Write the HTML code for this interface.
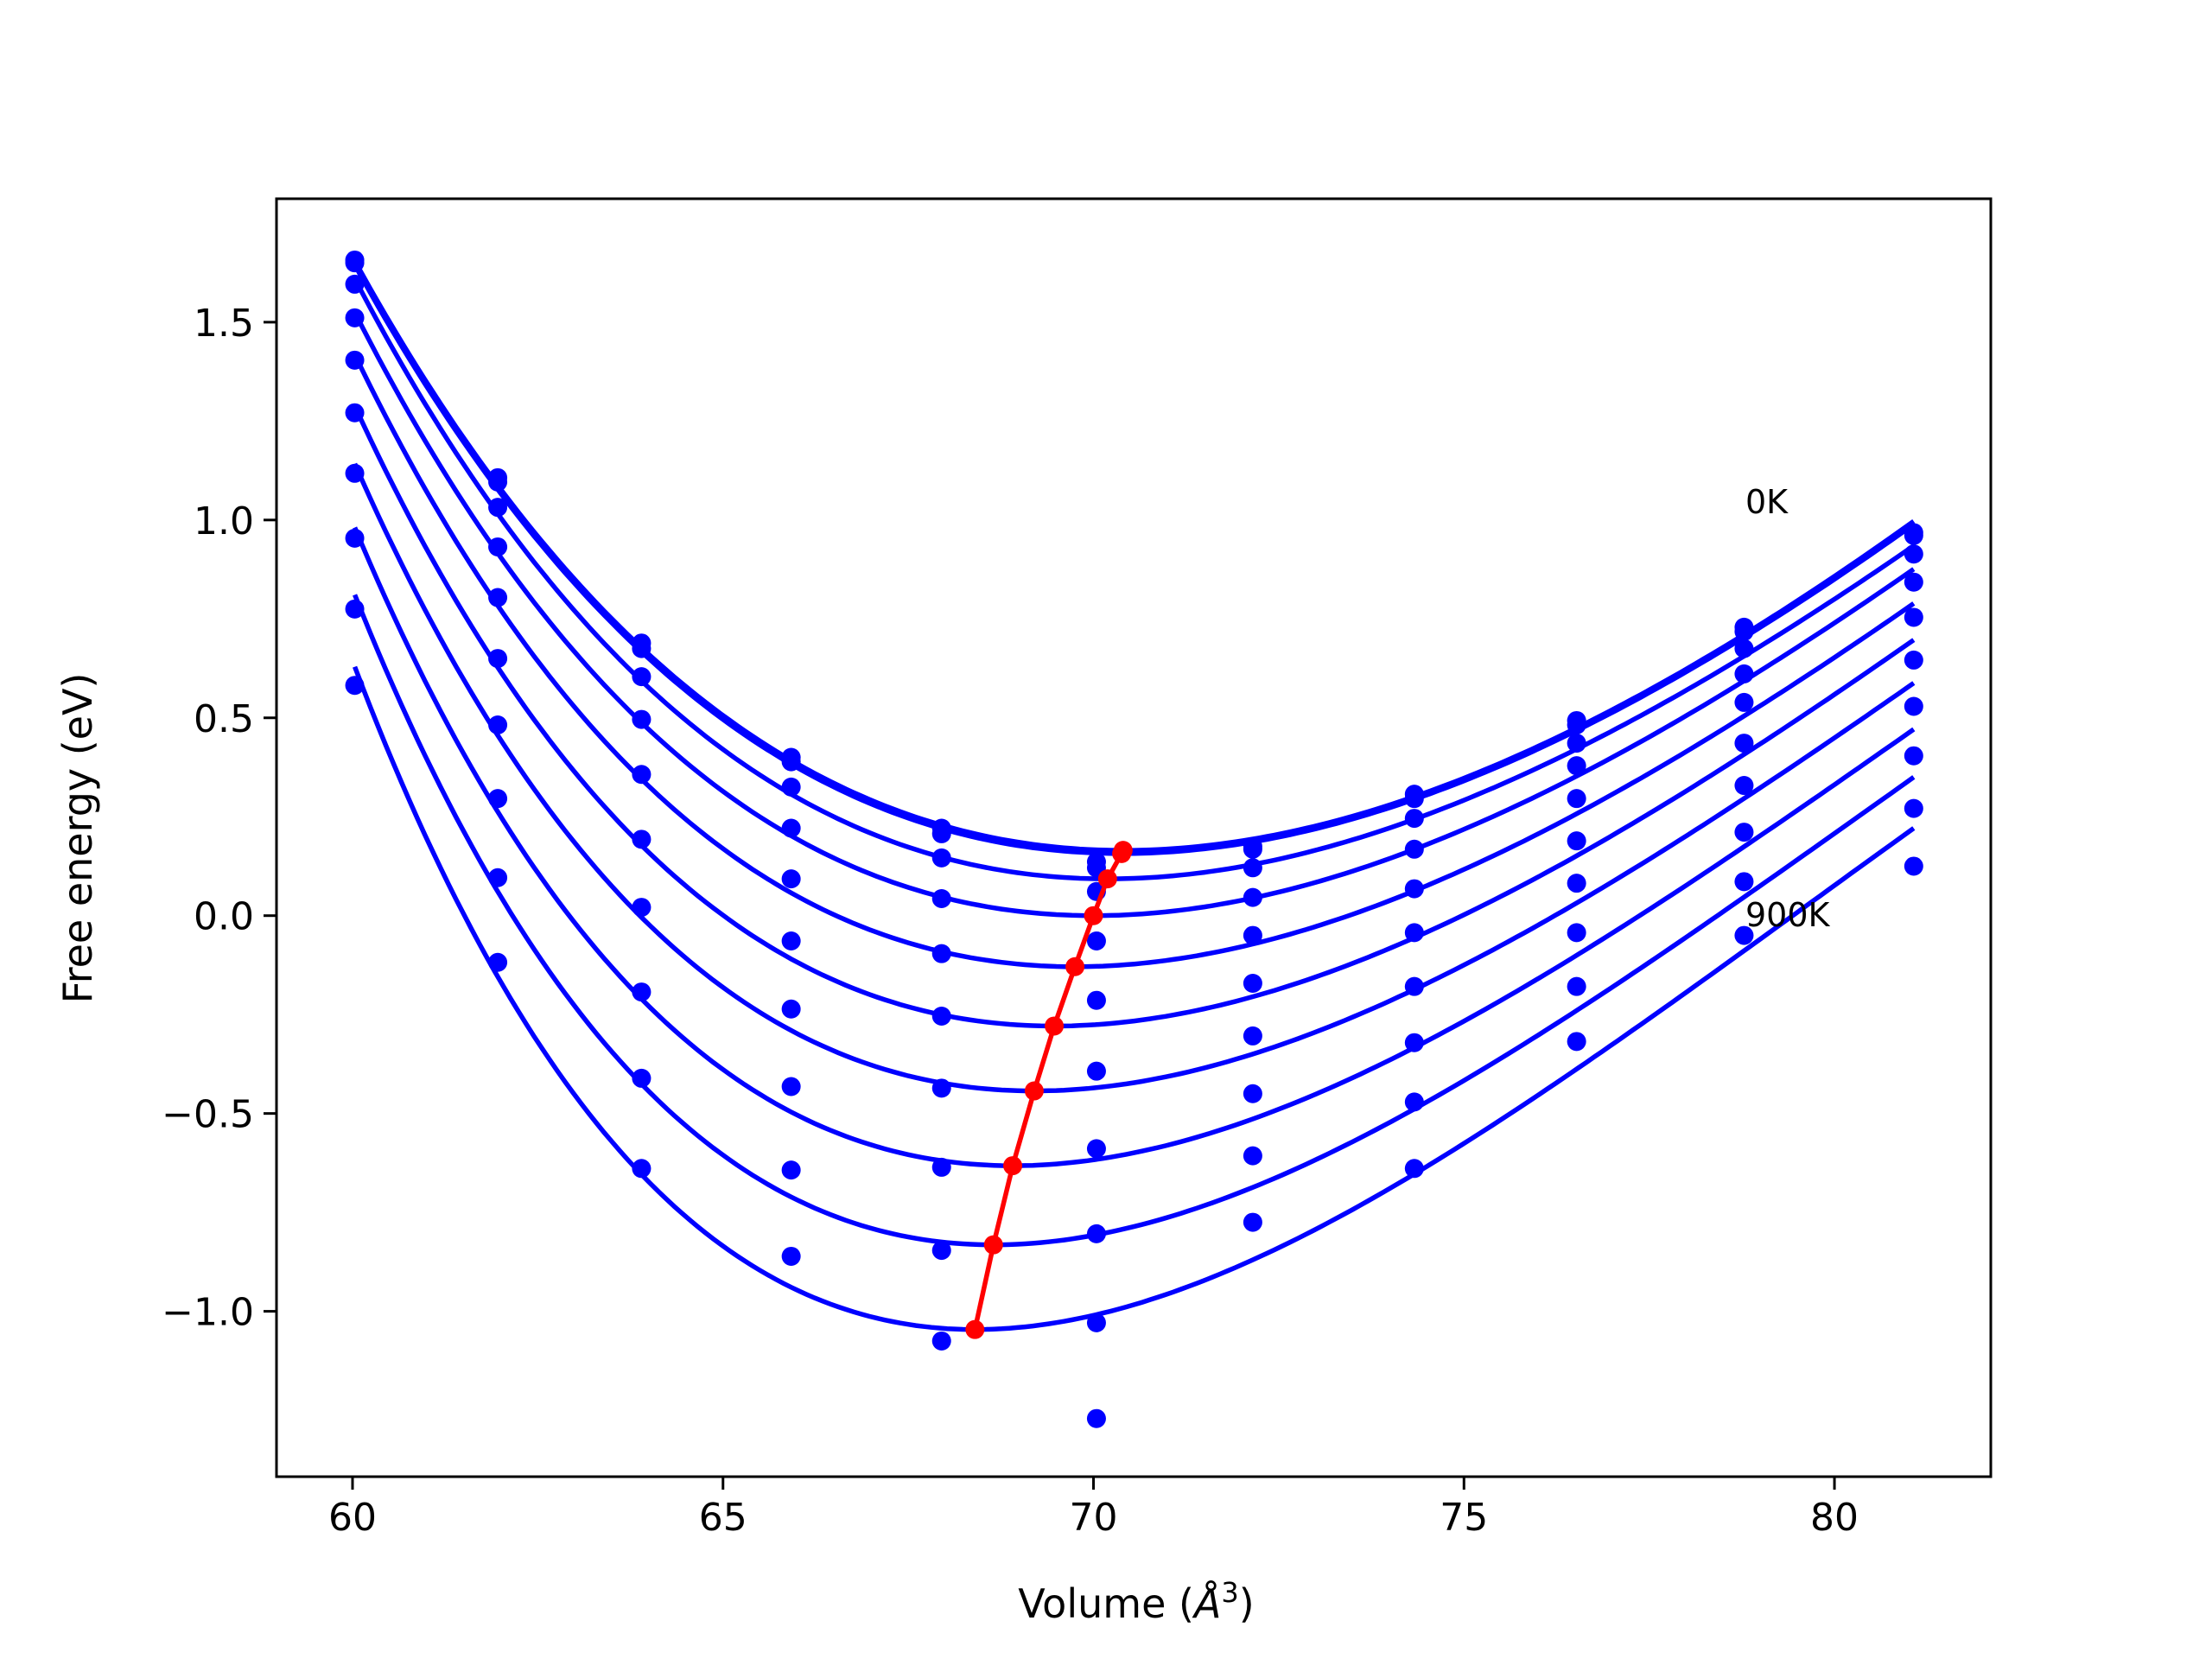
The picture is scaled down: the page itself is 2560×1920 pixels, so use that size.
<!DOCTYPE html>
<html><head><meta charset="utf-8"><style>
html,body{margin:0;padding:0;background:#fff;}
svg{display:block;font-family:"DejaVu Sans","Liberation Sans",sans-serif;}
</style></head><body>
<svg id="chart" width="2560" height="1920" viewBox="0 0 2560 1920"></svg>
<script>
const volumes=[60.03,61.96,63.9,65.92,67.95,70.04,72.15,74.33,76.52,78.78,81.07];
const temps=["0K","100K","200K","300K","400K","500K","600K","700K","800K","900K"];
const e0=[1.657,1.107,0.689,0.400,0.221,0.136,0.175,0.307,0.493,0.729,0.968];
const e1=[1.650,1.096,0.675,0.389,0.207,0.121,0.168,0.296,0.482,0.718,0.961];
const e2=[1.596,1.032,0.604,0.325,0.146,0.061,0.121,0.246,0.436,0.675,0.914];
const e3=[1.511,0.932,0.496,0.221,0.043,-0.064,0.046,0.168,0.379,0.611,0.843];
const e4=[1.404,0.804,0.357,0.093,-0.096,-0.214,-0.050,0.068,0.296,0.539,0.754];
const e5=[1.271,0.650,0.193,-0.064,-0.254,-0.393,-0.171,-0.043,0.189,0.436,0.646];
const e6=[1.118,0.482,0.021,-0.236,-0.436,-0.589,-0.304,-0.179,0.082,0.329,0.529];
const e7=[0.954,0.296,-0.193,-0.432,-0.636,-0.804,-0.450,-0.321,-0.043,0.211,0.404];
const e8=[0.775,0.096,-0.411,-0.643,-0.846,-1.029,-0.607,-0.471,-0.179,0.086,0.271];
const e9=[0.582,-0.118,-0.639,-0.861,-1.075,-1.271,-0.775,-0.639,-0.318,-0.050,0.125];
const series=[e0,e1,e2,e3,e4,e5,e6,e7,e8,e9];
// fitted-curve minima (red markers) and fitted values at the curve ends
const minVol=[70.40,70.38,70.19,70.0,69.75,69.47,69.2,68.91,68.65,68.4];
const minE=[0.165,0.157,0.093,0.0,-0.129,-0.279,-0.443,-0.632,-0.832,-1.046];
const fitStartE=[1.655,1.645,1.61,1.525,1.418,1.288,1.142,0.981,0.811,0.629];
const fitEndE=[0.997,0.989,0.935,0.876,0.789,0.697,0.588,0.471,0.350,0.221];
const xTicks=[60,65,70,75,80];
const yTicks=[-1.0,-0.5,0.0,0.5,1.0,1.5];

const L=320,R=2304,T=230,B=1709;
const xMin=58.974,xMax=82.11,yMin=-1.418,yMax=1.812;
const sx=v=>L+(v-xMin)/(xMax-xMin)*(R-L);
const sy=v=>B-(v-yMin)/(yMax-yMin)*(B-T);
const NS='http://www.w3.org/2000/svg';
const svg=document.getElementById('chart');
function mk(tag,attrs,parent){const e=document.createElementNS(NS,tag);for(const k in attrs)e.setAttribute(k,attrs[k]);(parent||svg).appendChild(e);return e;}

function bmTerms(V,V0){const x=Math.pow(V0/V,2/3);const d=x-1;return [d*d*d,d*d*(6-4*x)];}
function bmCurve(V0,E0,Va,Ea,Vb,Eb){
  const ta=bmTerms(Va,V0),tb=bmTerms(Vb,V0);
  const da=Ea-E0,db=Eb-E0;
  const bp=(db*ta[1]-da*tb[1])/(da*tb[0]-db*ta[0]);
  const k=da/(ta[0]*bp+ta[1]);
  return V=>{const t=bmTerms(V,V0);return E0+k*(t[0]*bp+t[1]);};
}

const plot=mk('g',{});


const v0=volumes[0],v1=volumes[volumes.length-1];
series.forEach((ys,si)=>{
  const f=bmCurve(minVol[si],minE[si],v0,fitStartE[si],v1,fitEndE[si]);
  let d='';
  for(let i=0;i<=200;i++){const v=v0+(v1-v0)*i/200;d+=(i?'L':'M')+sx(v).toFixed(1)+','+sy(f(v)).toFixed(1);}
  const p=mk('path',{d:d,fill:'none',stroke:'#0000ff','stroke-width':5.5},plot);
  
  
  ys.forEach((y,i)=>{
    const c=mk('circle',{cx:sx(volumes[i]),cy:sy(y),r:11,fill:'#0000ff'},plot);
    
    
  });
});
let rd='';minVol.forEach((v,i)=>{rd+=(i?'L':'M')+sx(v)+','+sy(minE[i]);});
const rl=mk('path',{d:rd,fill:'none',stroke:'#ff0000','stroke-width':5.5},plot);


minVol.forEach((v,i)=>{
  const c=mk('circle',{cx:sx(v),cy:sy(minE[i]),r:11,fill:'#ff0000'},plot);
  
  
});

const fr=mk('rect',{x:L,y:T,width:R-L,height:B-T,fill:'none',stroke:'#000','stroke-width':3});



xTicks.forEach(t=>{
  const x=sx(t);
  const tk=mk('line',{x1:x,x2:x,y1:B,y2:B+15,stroke:'#000','stroke-width':3});
  
  
  const tx=mk('text',{x:x,y:B+62,'text-anchor':'middle','font-size':44});
  tx.textContent=String(t);
  
  
});
yTicks.forEach(t=>{
  const y=sy(t);
  const tk=mk('line',{x1:L-15,x2:L,y1:y,y2:y,stroke:'#000','stroke-width':3});
  
  
  const tx=mk('text',{x:L-26,y:y+16,'text-anchor':'end','font-size':44});
  tx.textContent=(t<0?'\u2212':'')+Math.abs(t).toFixed(1);
  
  
});
</script>
<svg style="position:absolute;left:0;top:0" width="2560" height="1920">
<text x="2020" y="594" font-size="38" font-family="DejaVu Sans,sans-serif">0K</text>
<text x="2020" y="1072" font-size="38" font-family="DejaVu Sans,sans-serif">900K</text>
<text x="1315" y="1872" font-size="46" text-anchor="middle" font-family="DejaVu Sans,sans-serif">Volume (<tspan font-style="italic">Å</tspan><tspan font-size="32" dy="-18">3</tspan><tspan dy="18">)</tspan></text>
<text transform="translate(106,970) rotate(-90)" font-size="46" text-anchor="middle" font-family="DejaVu Sans,sans-serif">Free energy (eV)</text>
</svg>
</body></html>
